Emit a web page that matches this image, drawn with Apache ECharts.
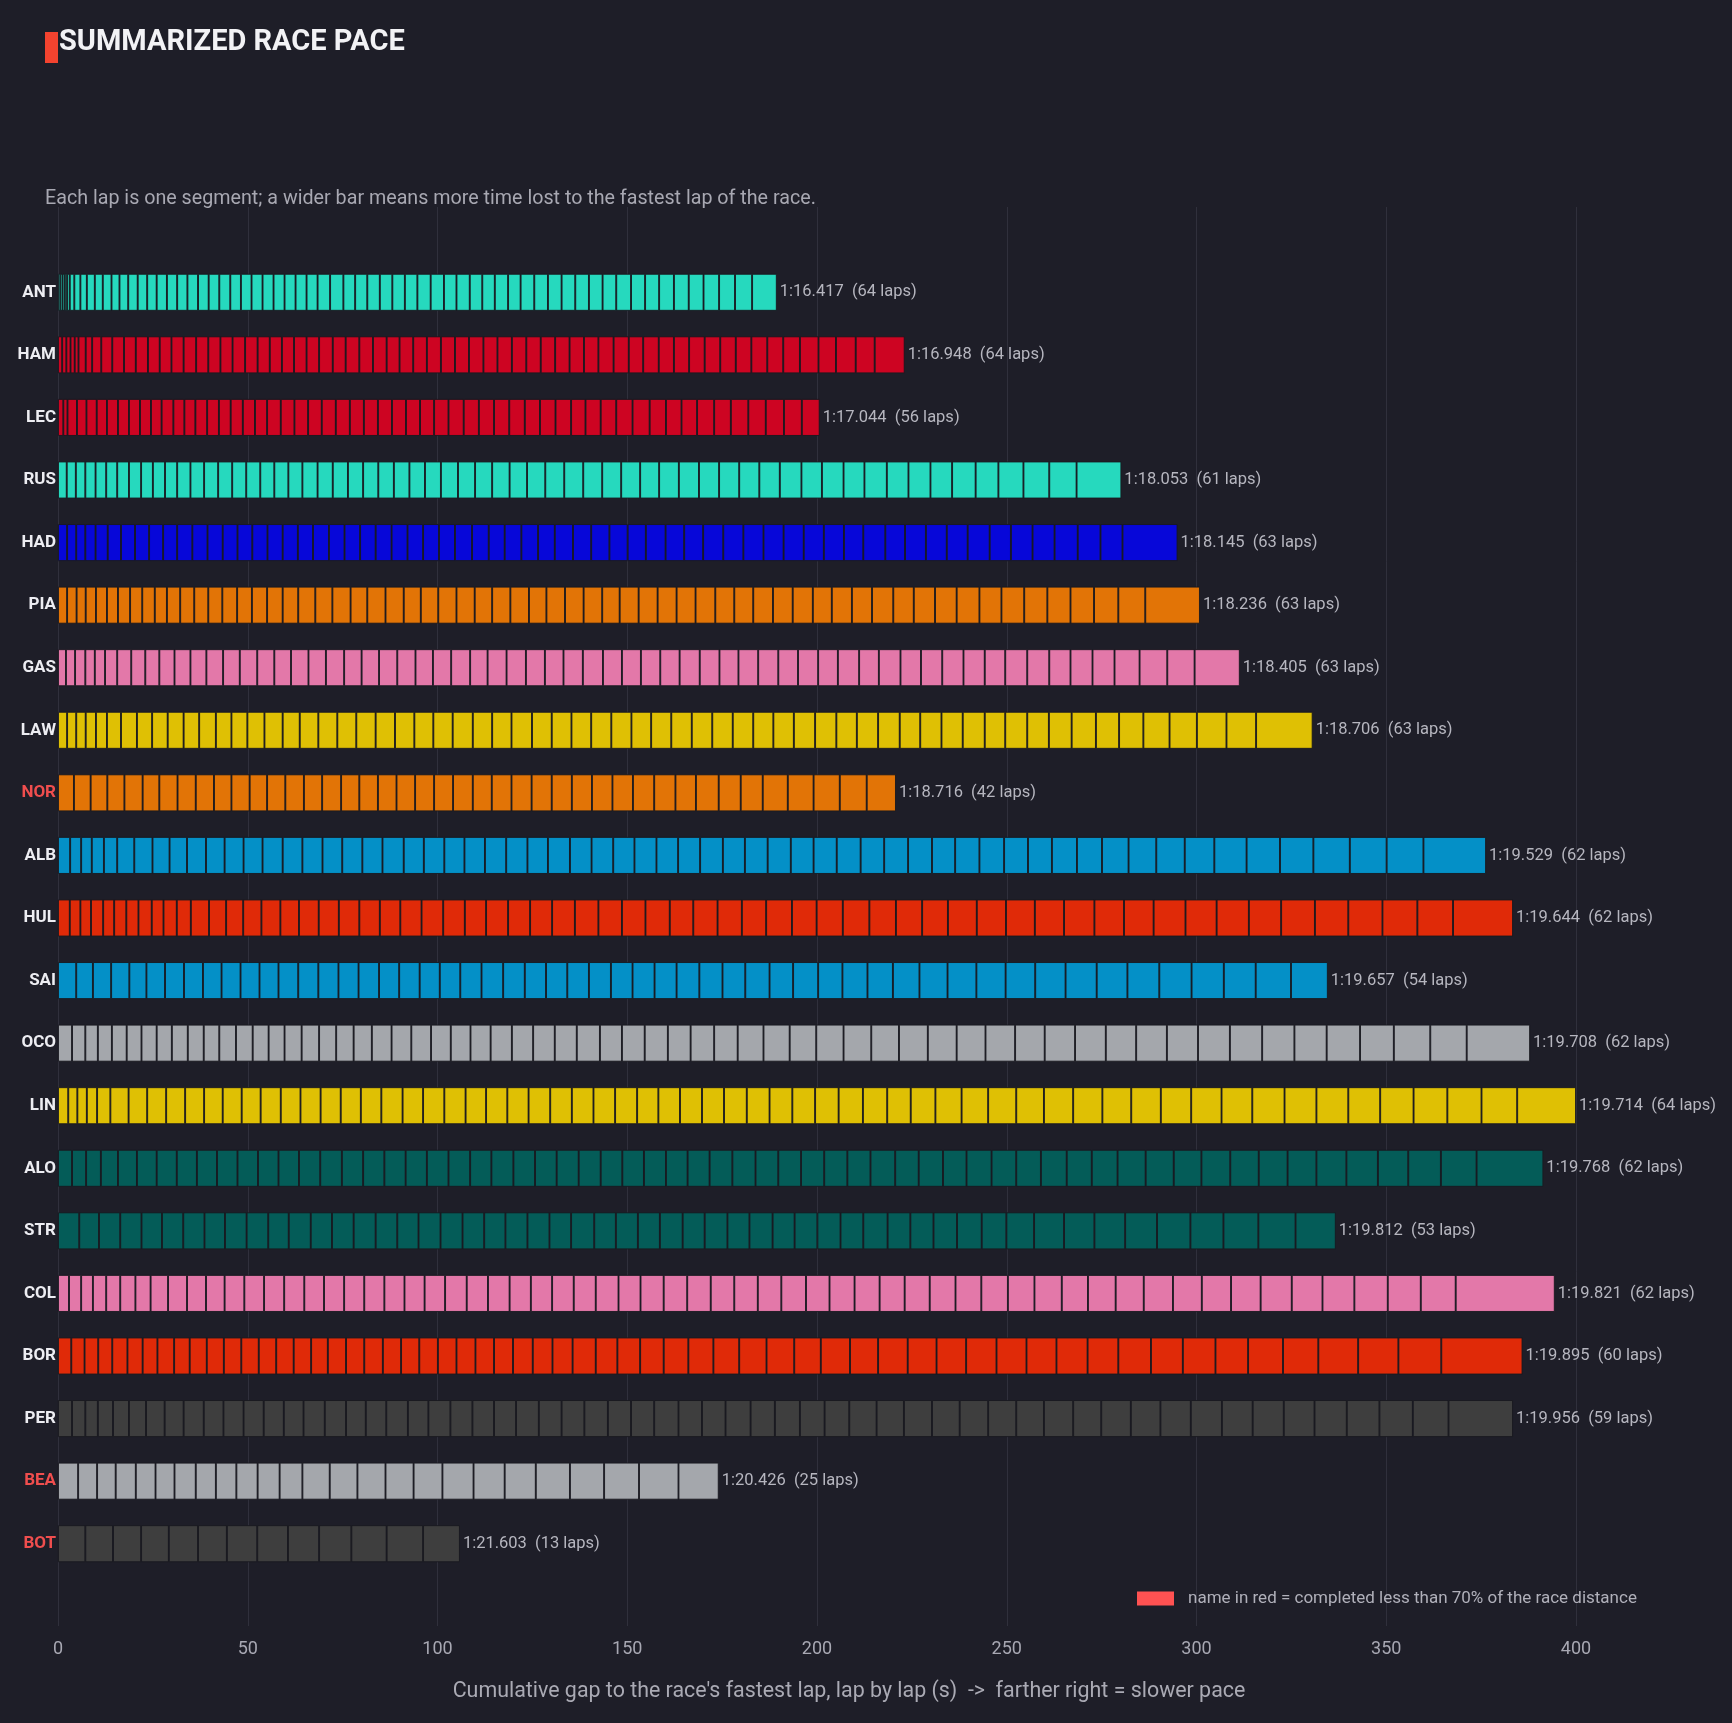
<!DOCTYPE html>
<html>
<head>
<meta charset="utf-8">
<script src="https://cdn.jsdelivr.net/npm/echarts@6/dist/echarts.min.js"></script>
<style>
  html, body { margin: 0; padding: 0; background: #1e1e28; }
  #chart { width: 1732px; height: 1723px; }
</style>
</head>
<body>
<div id="chart"></div>
<script>
// gap to the race's fastest lap, one value per lap (s), slowest laps last
var lapsANT = [0.6,0.6,0.6,0.6,0.7,1.2,1.6,1.7,
  2.1,2.1,2.3,2.1,2.3,2.5,2.5,2.5,2.7,2.7,
  2.7,2.8,2.8,2.8,2.9,2.8,2.8,2.9,2.9,2.9,
  2.9,2.9,2.9,3.3,3.5,3.1,3.2,3.3,3.3,3.3,
  3.3,3.5,3.5,3.3,3.5,3.3,3.3,3.5,3.3,3.6,
  3.6,3.6,3.6,3.6,3.6,3.6,3.9,3.7,3.7,3.9,
  3.9,3.9,4.1,4.2,4.5,6.5];
var lapsHAM = [1.1,1.1,1.1,1.1,1.0,1.9,
  1.7,2.4,2.9,3.1,3.1,3.2,3.1,3.1,3.2,3.3,
  3.2,3.2,3.2,3.3,3.3,3.2,3.2,3.2,3.3,3.3,
  3.6,3.4,3.6,3.6,3.6,3.4,3.6,3.6,3.7,3.7,
  3.7,3.8,3.7,3.8,3.8,3.8,3.8,3.8,3.8,3.8,
  4.0,4.0,3.8,4.1,4.0,4.0,4.1,4.1,4.1,4.1,
  4.2,4.2,4.4,4.9,4.6,5.2,5.0,7.9];
var lapsLEC = [1.4,1.1,2.5,2.5,2.7,2.7,2.9,2.9,2.9,2.9,
  2.8,3.1,2.9,2.9,3.1,3.1,3.1,3.2,3.2,3.2,
  3.6,3.6,3.6,3.6,3.7,3.7,3.7,3.7,3.7,3.7,
  3.7,3.7,3.8,4.0,4.0,4.0,4.0,4.1,4.0,4.1,
  4.1,3.8,4.0,4.1,4.3,4.5,4.3,4.1,4.1,4.5,
  4.4,4.6,4.6,4.8,4.7,4.7];
var lapsRUS = [2.3,2.4,2.5,2.7,2.8,2.9,3.1,3.2,3.1,
  3.2,3.2,3.5,3.6,3.7,3.7,3.7,3.7,3.7,3.7,
  3.7,4.0,4.0,4.0,4.0,4.0,4.1,4.1,4.1,4.2,
  4.5,4.5,4.5,4.6,4.6,4.8,5.0,5.0,5.0,5.0,
  5.0,5.0,5.2,5.3,5.3,5.3,5.3,5.4,5.7,5.4,
  5.7,5.5,5.9,5.7,5.8,5.7,6.2,6.0,6.6,6.8,7.2,11.8];
var lapsHAD = [2.4,2.4,2.4,2.7,3.2,3.5,3.7,3.7,3.7,
  3.7,4.0,4.0,4.0,3.9,3.9,4.0,4.0,4.0,4.0,
  4.2,4.1,4.1,4.1,4.2,4.2,4.1,4.2,4.2,4.5,
  4.4,4.2,4.4,4.4,4.4,4.8,4.8,4.8,4.8,4.8,
  5.2,4.9,5.0,5.3,5.3,5.3,5.3,5.3,5.3,5.3,
  5.1,5.8,5.2,5.5,5.5,5.5,5.8,5.6,5.7,5.8,6.1,6.0,5.8,14.5];
var lapsPIA = [2.4,2.5,2.4,2.7,2.9,2.9,3.2,3.2,3.3,
  3.2,3.5,3.7,3.7,3.7,3.9,3.9,4.0,4.1,4.1,
  4.5,4.5,4.8,4.4,4.8,4.8,4.5,4.6,4.8,4.8,
  4.6,4.8,4.9,4.6,4.9,4.9,4.9,4.6,5.0,5.0,
  5.0,5.0,5.2,5.0,5.0,5.2,5.2,5.3,5.0,
  5.3,5.3,5.6,5.4,5.6,5.7,6.0,5.8,6.0,6.1,6.1,6.2,6.4,7.1,14.4];
var lapsGAS = [2.1,2.4,2.7,2.5,2.7,3.2,3.7,3.7,3.7,
  4.0,4.2,4.2,4.4,4.4,4.6,4.5,4.4,4.6,4.6,
  4.8,4.6,4.6,4.8,4.8,4.6,4.8,5.0,4.6,5.0,
  5.1,5.0,4.9,5.1,5.3,5.0,5.0,5.1,5.1,5.3,
  5.2,5.0,5.2,5.3,5.2,5.3,
  5.2,5.6,5.2,5.7,5.4,5.6,5.6,5.6,5.4,5.8,5.8,5.6,5.8,5.8,6.6,7.3,7.2,11.9];
var lapsLAW = [2.4,2.4,2.5,2.7,2.9,3.7,4.2,4.0,4.1,
  4.2,4.1,4.4,4.1,4.2,4.5,4.8,4.5,4.9,5.0,
  5.0,5.1,5.1,5.1,5.0,5.1,5.3,5.1,5.1,5.4,
  5.2,5.2,5.2,5.3,5.3,5.2,5.3,5.4,5.4,5.4,
  5.4,5.3,5.4,5.6,
  5.6,5.4,5.6,5.7,5.4,5.6,5.6,5.8,5.4,5.8,5.7,6.0,6.4,6.1,6.4,6.9,7.2,7.8,7.8,14.9];
var lapsNOR = [4.2,4.4,4.4,4.5,4.8,4.4,4.8,4.8,4.8,
  4.6,4.8,4.6,4.8,4.9,4.8,5.0,4.8,4.9,4.9,
  4.9,5.0,5.0,5.2,5.0,5.2,5.3,5.3,5.3,5.3,
  5.4,5.4,5.6,5.6,5.4,6.0,5.8,5.8,6.6,6.8,
  6.9,7.1,7.7];
var lapsALB = [3.2,2.9,2.8,3.2,3.5,4.5,4.8,4.5,4.6,
  5.0,4.9,5.0,5.0,5.3,5.2,5.3,5.2,5.3,5.3,
  5.6,5.3,5.4,5.3,5.4,5.6,5.6,5.4,5.8,5.7,
  5.7,5.6,5.8,5.7,5.8,6.0,5.8,6.0,6.1,6.0,
  6.1,
  6.3,6.2,6.3,6.3,6.1,6.4,6.5,6.3,6.3,6.6,
  6.6,7.0,7.3,7.5,7.8,8.5,8.8,8.8,9.6,9.7,
  9.7,16.5];
var lapsHUL = [3.1,2.8,2.8,3.2,2.9,3.2,3.2,3.5,3.1,
  3.5,3.7,4.8,4.5,4.5,4.8,5.0,4.9,5.2,5.3,
  5.4,5.4,5.4,5.6,5.7,5.7,5.6,5.8,5.8,5.8,
  6.0,6.2,6.2,6.2,6.4,6.2,6.4,6.4,6.4,6.8,
  6.5,6.9,
  7.0,7.0,6.9,6.8,7.6,7.7,7.6,7.7,8.0,7.8,
  7.8,8.4,8.2,8.5,8.5,8.9,8.8,9.0,9.2,9.4,
  15.8];
var lapsSAI = [4.8,4.4,4.8,4.8,4.5,4.9,5.0,5.0,4.9,
  5.0,5.0,5.0,5.2,5.3,5.3,5.3,5.4,5.3,5.4,
  5.3,5.4,5.6,5.7,5.7,5.6,5.6,5.7,5.8,5.7,
  5.8,5.8,6.0,6.1,6.0,6.4,6.2,6.6,
  6.4,6.6,6.7,7.0,7.4,7.6,7.7,7.8,8.0,8.2,
  8.1,8.4,8.5,8.5,8.4,9.3,9.7];
var lapsOCO = [3.7,3.5,3.3,3.7,3.9,3.9,4.0,4.0,4.2,
  4.2,4.1,4.4,4.4,4.2,4.2,4.5,4.6,4.5,4.6,
  4.8,5.2,5.2,5.2,5.2,5.2,5.3,5.6,5.6,5.7,
  5.8,6.1,5.8,6.0,6.1,6.0,6.2,6.2,6.8,6.9,
  7.0,
  7.2,7.3,7.3,7.6,7.6,7.6,7.8,7.8,8.0,8.1,
  8.0,8.1,8.2,8.4,8.5,8.5,8.5,8.8,8.9,9.6,
  9.6,16.7];
var lapsLIN = [2.7,2.4,2.5,2.7,3.5,4.8,4.9,5.0,5.0,
  5.0,4.9,5.0,5.0,5.3,5.2,5.3,5.3,5.3,5.4,
  5.6,5.4,5.6,5.6,5.4,5.6,5.6,5.7,5.7,5.7,
  5.7,5.8,5.6,5.7,5.8,5.8,6.0,6.0,6.0,6.0,
  6.2,
  6.4,6.4,6.2,6.5,6.9,7.0,7.4,7.3,7.7,7.7,
  7.6,7.8,8.0,8.0,8.1,8.5,8.4,8.4,8.4,8.8,
  8.9,9.0,9.4,15.5];
var lapsALO = [3.7,3.7,3.9,4.5,5.0,5.2,5.3,5.3,5.3,
  5.4,5.4,5.4,5.4,5.6,5.7,5.6,5.6,5.6,5.6,
  5.7,5.7,5.6,5.8,5.7,5.7,5.8,5.8,5.7,5.7,
  5.8,5.7,5.8,6.0,6.1,6.0,6.0,6.1,
  6.1,6.1,6.5,6.2,6.4,6.2,6.6,6.5,6.5,6.8,
  6.6,6.8,7.4,7.4,7.3,7.6,7.5,7.6,7.6,7.9,
  8.3,8.0,8.6,9.4,17.6];
var lapsSTR = [5.6,5.2,5.6,5.6,5.4,5.6,5.6,5.4,5.7,
  5.7,5.4,5.8,5.6,5.7,5.8,5.7,5.6,5.8,5.8,
  5.7,5.6,5.8,5.8,5.7,6.1,5.7,5.8,5.8,6.0,
  5.8,6.0,5.8,6.1,5.8,6.0,
  6.1,6.0,6.4,6.0,6.1,6.2,6.5,6.5,7.3,7.9,
  8.0,8.1,8.4,8.8,8.7,9.2,9.8,10.6];
var lapsCOL = [2.9,3.2,3.1,3.5,3.7,4.0,4.0,4.6,5.0,
  5.0,4.9,5.2,5.2,5.3,5.3,5.2,5.3,5.3,5.3,
  5.3,5.3,5.4,5.7,5.6,5.7,5.6,5.6,5.7,5.8,
  6.0,5.8,6.1,6.2,6.2,6.2,6.2,6.2,6.5,6.2,
  6.6,6.6,6.6,6.6,6.8,6.8,7.0,7.0,7.2,6.9,
  7.3,7.4,7.7,7.6,7.7,7.8,8.2,8.1,8.4,8.8,
  8.7,9.2,26.1];
var lapsBOR = [3.5,3.5,3.6,3.7,4.0,4.0,3.9,4.4,4.1,
  4.5,4.5,4.6,4.6,4.6,4.6,4.6,4.4,4.8,4.8,
  4.9,4.8,4.8,4.9,4.9,5.0,4.9,5.0,5.2,5.2,
  5.3,6.1,5.7,6.0,6.2,6.5,6.6,6.8,7.2,7.3,
  7.0,
  7.7,7.4,7.8,7.6,7.8,8.0,7.9,7.9,8.2,8.1,
  8.6,8.4,8.6,8.6,9.2,9.3,10.5,10.6,11.3,21.4];
var lapsPER = [3.7,3.5,3.3,4.0,4.2,4.5,4.9,5.0,5.3,
  5.2,5.3,5.3,5.3,5.2,5.6,5.6,5.2,5.4,5.7,
  5.4,5.8,5.8,5.7,5.8,6.0,6.0,6.0,6.2,6.1,
  6.1,6.4,6.2,6.2,6.6,6.4,6.6,6.5,
  6.5,7.2,7.2,7.4,7.3,7.5,7.4,7.3,7.7,7.4,
  7.8,7.8,8.0,8.2,8.1,8.2,8.1,8.5,8.6,8.8,
  9.4,17.0];
var lapsBEA = [5.3,5.0,4.9,5.3,5.2,5.0,5.6,5.3,5.4,5.6,
  5.8,6.0,7.2,7.3,7.4,7.4,7.6,8.2,8.2,8.2,
  9.0,9.0,9.2,10.4,10.6];
var lapsBOT = [7.2,7.3,7.4,7.3,7.7,7.6,8.0,8.1,8.2,8.5,9.3,9.6,9.7];

var drivers = ['ANT','HAM','LEC','RUS','HAD','PIA','GAS','LAW','NOR','ALB','HUL',
  'SAI','OCO','LIN','ALO','STR','COL','BOR','PER','BEA','BOT'];
var bestLaps = ['1:16.417','1:16.948','1:17.044','1:18.053','1:18.145','1:18.236','1:18.405',
  '1:18.706','1:18.716','1:19.529','1:19.644','1:19.657','1:19.708','1:19.714','1:19.768',
  '1:19.812','1:19.821','1:19.895','1:19.956','1:20.426','1:21.603'];
var lapGaps = [lapsANT, lapsHAM, lapsLEC, lapsRUS, lapsHAD, lapsPIA, lapsGAS, lapsLAW, lapsNOR,
  lapsALB, lapsHUL, lapsSAI, lapsOCO, lapsLIN, lapsALO, lapsSTR, lapsCOL, lapsBOR, lapsPER,
  lapsBEA, lapsBOT];
var raceLaps = 64;
var xTicks = [0, 50, 100, 150, 200, 250, 300, 350, 400];

var teamColors = ['#26d9be','#cd0422','#cd0422','#26d9be','#0707d9','#e27406','#e378a9',
  '#dfc004','#e27406','#0490c7','#e02a08','#0490c7','#a4a7ac','#dfc004','#045c58',
  '#045c58','#e378a9','#e02a08','#3e3e3e','#a4a7ac','#3e3e3e'];

var legendText = 'name in red = completed less than 70% of the race distance';
var font = 'Roboto';

var maxLaps = 0;
for (let d = 0; d < lapGaps.length; d++) maxLaps = Math.max(maxLaps, lapGaps[d].length);

var series = [];
for (let k = 0; k < maxLaps; k++) {
    var data = [];
    for (let d = 0; d < drivers.length; d++) {
        var laps = lapGaps[d];
        if (k >= laps.length) { data.push('-'); continue; }
        var item = { value: laps[k], itemStyle: { color: teamColors[d] } };
        if (k == laps.length - 1) {
            item.label = {
                show: true, position: 'right', distance: 3,
                formatter: bestLaps[d] + '  (' + laps.length + ' laps)',
                color: '#b6b6bf', fontSize: 16.5, fontFamily: font
            };
        }
        data.push(item);
    }
    series.push({
        type: 'bar', stack: 'pace', xAxisIndex: 1, yAxisIndex: 1,
        barWidth: 37, clip: false, silent: true,
        itemStyle: { borderColor: '#18181f', borderWidth: 0.9 },
        data: data
    });
}
// legend entry only
series.push({
    name: legendText, type: 'bar', stack: 'pace', xAxisIndex: 1, yAxisIndex: 1,
    data: [], itemStyle: { color: '#ff5252' }
});

var option = {
    backgroundColor: '#1e1e28',
    animation: false,
    title: [
        { text: 'SUMMARIZED RACE PACE', left: 59, top: 28, padding: 0,
          textStyle: { color: '#f2f2f5', fontSize: 29, fontWeight: 'bold', fontFamily: font } },
        { text: 'Each lap is one segment; a wider bar means more time lost to the fastest lap of the race.',
          left: 45, top: 189, padding: 0,
          textStyle: { color: '#a8a8b2', fontSize: 19.7, fontWeight: 'normal', fontFamily: font } }
    ],
    graphic: [
        { type: 'rect', left: 45, top: 32, shape: { width: 13, height: 31 }, style: { fill: '#f4432f' } }
    ],
    legend: {
        data: [legendText], left: 1137, top: 1590, padding: 0, itemWidth: 37, itemHeight: 14, icon: 'rect',
        textStyle: { color: '#b0b0ba', fontSize: 17, fontFamily: font, padding: [0, 0, 0, 9] }
    },
    grid: [
        { left: 58, right: 156, top: 207, bottom: 97 },
        { left: 58, right: 156, top: 261, bottom: 148 }
    ],
    xAxis: [
        {
            gridIndex: 0, type: 'value', min: xTicks[0], max: xTicks[xTicks.length - 1], interval: 50,
            axisLine: { show: false }, axisTick: { show: false },
            splitLine: { lineStyle: { color: '#30303c', width: 1 } },
            axisLabel: { color: '#a8a8b3', fontSize: 18, margin: 14, fontFamily: font },
            name: "Cumulative gap to the race's fastest lap, lap by lap (s)  ->  farther right = slower pace",
            nameLocation: 'middle', nameGap: 55,
            nameTextStyle: { color: '#aaaab4', fontSize: 21.4, fontFamily: font, padding: [0, 0, 0, 64] }
        },
        { gridIndex: 1, type: 'value', min: xTicks[0], max: xTicks[xTicks.length - 1], show: false }
    ],
    yAxis: [
        { gridIndex: 0, type: 'value', show: false },
        {
            gridIndex: 1, type: 'category', data: drivers, inverse: true,
            axisLine: { show: false }, axisTick: { show: false }, splitLine: { show: false },
            axisLabel: {
                margin: 2,
                formatter: function (v, i) {
                    return lapGaps[i].length < 0.7 * raceLaps ? '{r|' + v + '}' : '{w|' + v + '}';
                },
                rich: {
                    r: { color: '#f04e4e', fontSize: 17, fontWeight: 'bold', fontFamily: font },
                    w: { color: '#ededf2', fontSize: 17, fontWeight: 'bold', fontFamily: font }
                }
            }
        }
    ],
    series: series
};

var myChart = echarts.init(document.getElementById('chart'));
myChart.setOption(option);
</script>
</body>
</html>
